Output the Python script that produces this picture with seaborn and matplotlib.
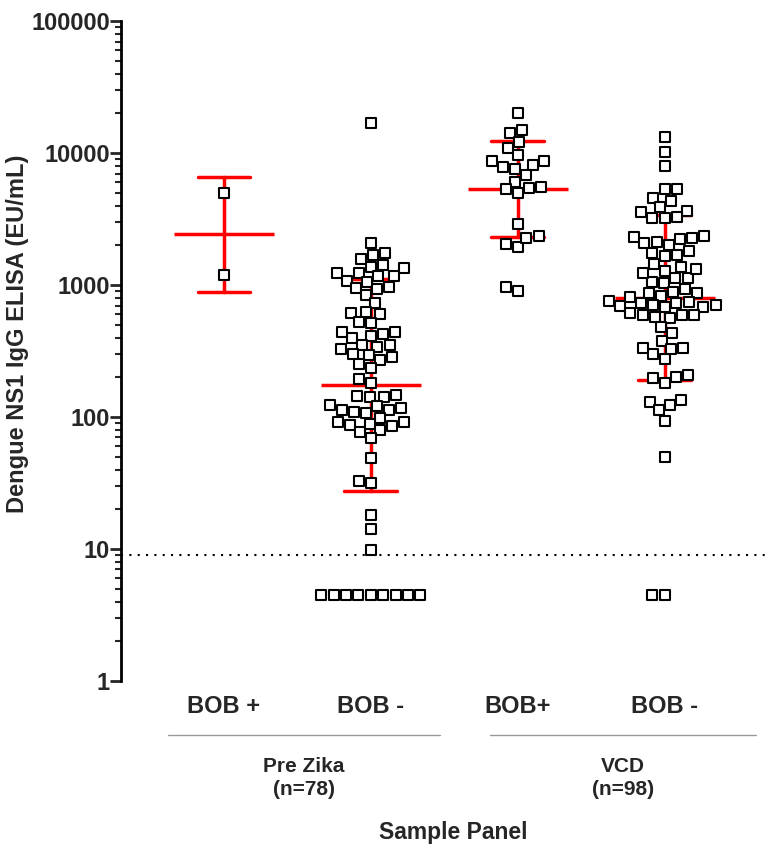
import numpy as np
import pandas as pd
import seaborn as sns
import matplotlib.pyplot as plt
from matplotlib.ticker import LogLocator, NullFormatter

sns.set_style("ticks")
plt.rcParams["font.family"] = ["Liberation Sans", "DejaVu Sans"]
plt.rcParams["font.weight"] = "bold"

# categories and labels
groups = ["Pre Zika BOB +", "Pre Zika BOB -", "VCD BOB+", "VCD BOB -"]
tick_labels = ["BOB +", "BOB -", "BOB+", "BOB -"]
panels = ["Pre Zika\n(n=78)", "VCD\n(n=98)"]
yticks = [1, 10, 100, 1000, 10000, 100000]
cutoff = 9

# EU/mL values
pre_pos = [4950, 1190]
pre_neg = [17000, 2070, 1760, 1690, 1570, 1420, 1380, 1340, 1170, 1240, 1230, 1170,
           1080, 1060, 970, 930, 945, 840, 727, 617, 600, 628, 518, 527, 443, 399,
           423, 443, 411, 351, 341, 351, 326, 295, 286, 300, 270, 252, 234, 193, 182,
           143, 147, 144, 143, 123, 110, 118, 114, 114, 121, 108, 98, 87, 91, 88.5,
           91, 85.5, 79.7, 77.4, 69.7, 48.7, 31.8, 32.9, 18.1, 14.1, 9.8,
           4.5, 4.5, 4.5, 4.5, 4.5, 4.5, 4.5, 4.5, 4.5]
vcd_pos = [20200, 15100, 14100, 12200, 11000, 9660, 8690, 7880, 8690, 7600, 8070, 6810,
           6060, 5560, 5310, 4950, 5430, 2880, 2350, 2050, 1950, 2260, 900, 960]
vcd_neg = [13150, 10230, 7970, 5340, 5310, 4590, 4350, 3660, 3880, 3590, 3290, 3200,
           3240, 2130, 2010, 2320, 2260, 2350, 2070, 2230, 1690, 1760, 1810, 1660,
           1440, 1280, 1140, 1030, 1060, 1360, 1140, 1230, 1320, 890, 865, 826, 875,
           933, 807, 748, 727, 705, 685, 678, 693, 705, 727, 760, 593, 593, 559, 617,
           575, 593, 483, 431, 378, 331, 299, 274, 327, 331, 200, 182, 196, 208, 131,
           123, 135, 113, 94, 50, 4.5, 4.5]

series = [pre_pos, pre_neg, vcd_pos, vcd_neg]
df = pd.DataFrame({
    "group": np.repeat(groups, [len(s) for s in series]),
    "value": np.concatenate(series),
})

fig = plt.figure(figsize=(7.75, 8.48), dpi=100)
ax = fig.add_axes([0.156, 0.197, 0.838, 0.778])

# geometric mean +/- geometric SD (computed in log space)
sns.pointplot(data=df, x="group", y="value", order=groups, log_scale=True,
              errorbar="sd", color="red", linestyle="none", marker="_",
              markersize=72, markeredgewidth=2.5, capsize=0.36,
              err_kws={"linewidth": 2.5}, ax=ax)
sns.swarmplot(data=df, x="group", y="value", order=groups, log_scale=True,
              marker="s", size=7, color="white", edgecolor="black",
              linewidth=1.5, ax=ax, zorder=3)

ax.axhline(cutoff, ls=(0, (1, 3)), color="black", lw=1.5, zorder=1)

ax.set_ylim(1, 100000)
ax.set_xlim(-0.702, 3.72)
ax.set_yticks(yticks)
ax.set_yticklabels([str(t) for t in yticks])
ax.yaxis.set_minor_locator(LogLocator(base=10, subs=range(2, 10)))
ax.yaxis.set_minor_formatter(NullFormatter())
ax.set_xticks(range(len(groups)))
ax.set_xticklabels(tick_labels)
ax.tick_params(axis="y", which="major", length=8, width=2, labelsize=17, pad=0)
ax.tick_params(axis="y", which="minor", length=4, width=1.5)
ax.tick_params(axis="x", length=0, labelsize=17, pad=10)
ax.set_xlabel("")
ax.set_ylabel("")
for s in ["top", "right", "bottom"]:
    ax.spines[s].set_visible(False)
ax.spines["left"].set_linewidth(2)
ax.spines["left"].set_color("black")

# panel brackets under the categories
trans = ax.get_xaxis_transform()
for (x0, x1), label in zip([(-0.38, 1.47), (1.81, 3.62)], panels):
    ax.plot([x0, x1], [-0.082, -0.082], transform=trans, color="#999999",
            lw=1, clip_on=False)
    ax.text((x0 + x1) / 2, -0.115, label, transform=trans, ha="center",
            va="top", fontsize=15, fontweight="bold", linespacing=1.3)

fig.text(0.585, 0.018, "Sample Panel", ha="center", va="center",
         fontsize=16.5, fontweight="bold")
fig.text(0.023, 0.606, "Dengue NS1 IgG ELISA (EU/mL)", rotation=90,
         ha="center", va="center", fontsize=17, fontweight="bold")

fig.savefig("out.png", dpi=100)
